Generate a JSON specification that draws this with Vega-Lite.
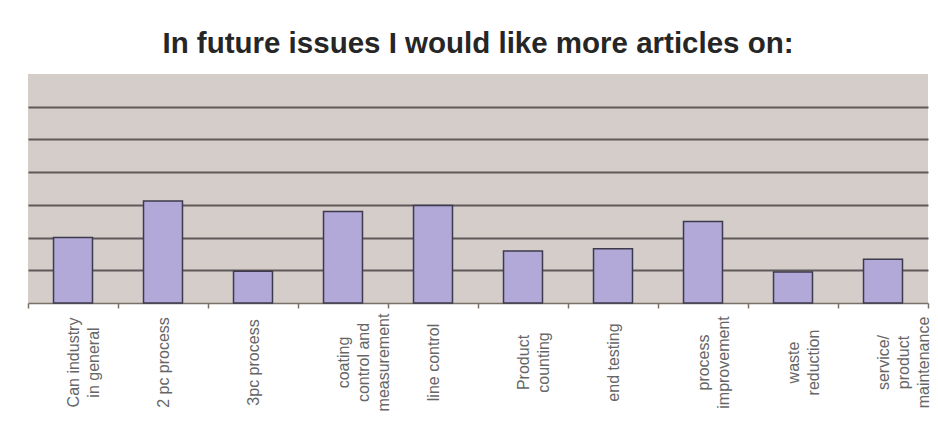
{
  "$schema": "https://vega.github.io/schema/vega-lite/v6.json",
  "width": 900,
  "height": 229,
  "padding": {"left": 20, "top": 28, "right": 10, "bottom": 5},
  "background": "white",
  "title": {
    "text": "In future issues I would like more articles on:",
    "font": "Liberation Sans",
    "fontSize": 29.5,
    "fontWeight": "bold",
    "color": "#262626",
    "anchor": "middle",
    "offset": 15
  },
  "data": {
    "values": [
      {"topic": "Can industry|in general", "value": 2.0},
      {"topic": "2 pc process", "value": 3.12},
      {"topic": "3pc process", "value": 0.97},
      {"topic": "coating|control and|measurement", "value": 2.8},
      {"topic": "line control", "value": 2.98},
      {"topic": "Product|counting", "value": 1.59},
      {"topic": "end testing", "value": 1.66},
      {"topic": "process|improvement", "value": 2.49},
      {"topic": "waste|reduction", "value": 0.95},
      {"topic": "service/|product|maintenance", "value": 1.34}
    ]
  },
  "config": {
    "view": {"fill": "#d4cdca", "stroke": null}
  },
  "mark": {
    "type": "bar",
    "fill": "#b2a9d9",
    "stroke": "#3c3a4c",
    "strokeWidth": 1.5,
    "width": {"band": 0.433}
  },
  "encoding": {
    "x": {
      "field": "topic",
      "type": "nominal",
      "sort": null,
      "scale": {"paddingInner": 0, "paddingOuter": 0},
      "axis": {
        "title": null,
        "labelExpr": "split(datum.label, '|')",
        "labelAngle": -90,
        "labelAlign": "center",
        "labelBaseline": "middle",
        "labelPadding": 54,
        "labelFont": "Liberation Sans",
        "labelFontSize": 16,
        "labelLineHeight": 20,
        "labelColor": "#666666",
        "labelLimit": 200,
        "tickBand": "extent",
        "ticks": true,
        "tickSize": 5,
        "tickColor": "#7a7068",
        "tickWidth": 1.5,
        "domain": true,
        "domainColor": "#7a7068",
        "domainWidth": 1.5,
        "grid": false
      }
    },
    "y": {
      "field": "value",
      "type": "quantitative",
      "scale": {"domain": [0, 7], "nice": false},
      "axis": {
        "title": null,
        "labels": false,
        "ticks": false,
        "domain": false,
        "grid": true,
        "values": [1, 2, 3, 4, 5, 6],
        "gridColor": "#5f5959",
        "gridWidth": 2,
        "minExtent": 0,
        "maxExtent": 0
      }
    }
  }
}
